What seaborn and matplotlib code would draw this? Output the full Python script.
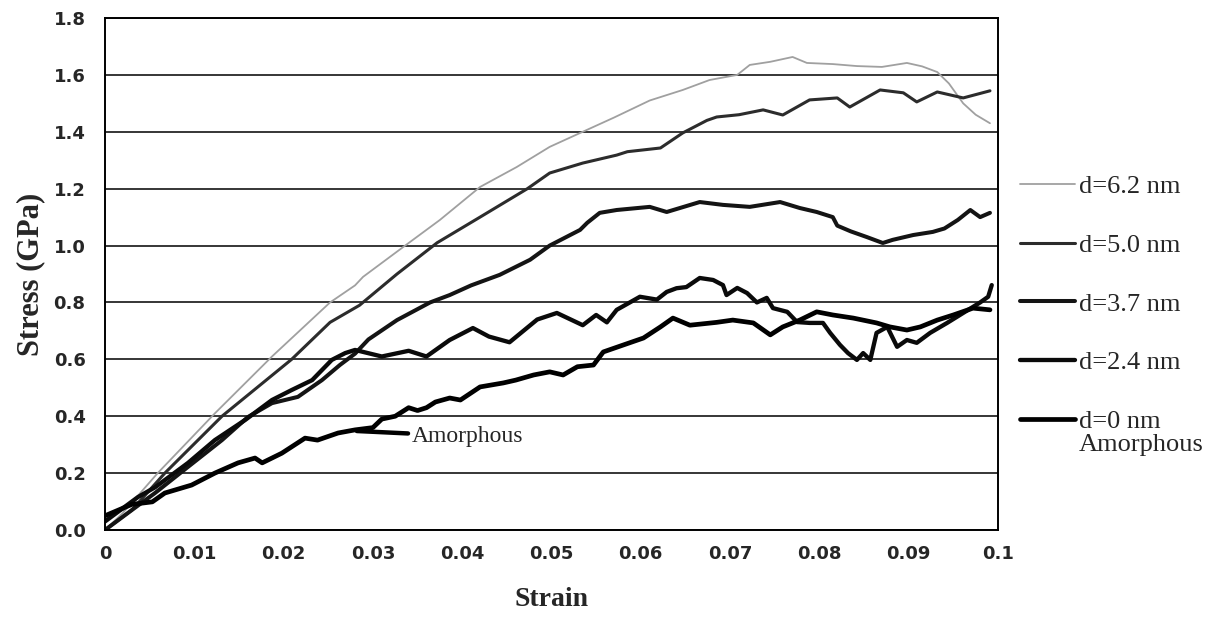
import matplotlib
matplotlib.use("Agg")
import matplotlib.pyplot as plt
import seaborn as sns
import pandas as pd

# ---------------- data ----------------
strain_62 = [0, 0.002, 0.0059, 0.0123, 0.0187, 0.0252, 0.028, 0.0289, 0.0334, 0.0375, 0.042, 0.0461,
             0.0498, 0.0535, 0.057, 0.061, 0.0647, 0.0677, 0.0708, 0.0722, 0.0745, 0.077, 0.0786,
             0.0815, 0.0842, 0.087, 0.0898, 0.0915, 0.0932, 0.0945, 0.0961, 0.0975, 0.0991]
stress_62 = [0, 0.06, 0.20, 0.41, 0.61, 0.80, 0.86, 0.89, 0.995, 1.09, 1.206, 1.276,
             1.347, 1.40, 1.45, 1.51, 1.547, 1.582, 1.60, 1.635, 1.646, 1.663, 1.642,
             1.638, 1.631, 1.628, 1.642, 1.63, 1.61, 1.57, 1.50, 1.46, 1.43]

strain_50 = [0, 0.003, 0.0067, 0.0131, 0.0209, 0.0252, 0.0285, 0.0327, 0.0372, 0.042, 0.0473, 0.0498,
             0.0535, 0.0573, 0.0585, 0.0622, 0.0647, 0.0674, 0.0685, 0.071, 0.0737, 0.0759, 0.0789,
             0.082, 0.0834, 0.0868, 0.0894, 0.0909, 0.0932, 0.0961, 0.0991]
stress_50 = [0, 0.07, 0.20, 0.40, 0.60, 0.73, 0.79, 0.90, 1.01, 1.10, 1.20, 1.255,
             1.29, 1.318, 1.33, 1.343, 1.396, 1.44, 1.452, 1.46, 1.477, 1.459, 1.512,
             1.519, 1.487, 1.547, 1.537, 1.505, 1.54, 1.519, 1.544]

strain_37 = [0, 0.003, 0.0056, 0.0093, 0.0131, 0.016, 0.0187, 0.0216, 0.0243, 0.0263, 0.028, 0.0295,
             0.0327, 0.0364, 0.0386, 0.041, 0.0442, 0.0476, 0.0498, 0.0532, 0.054, 0.0554, 0.0573,
             0.061, 0.0629, 0.0666, 0.0692, 0.0722, 0.0756, 0.0778, 0.0797, 0.0815, 0.082, 0.0835,
             0.0853, 0.0871, 0.0882, 0.0905, 0.0927, 0.094, 0.0955, 0.0969, 0.098, 0.0991]
stress_37 = [0, 0.07, 0.13, 0.222, 0.316, 0.397, 0.446, 0.468, 0.527, 0.58, 0.62, 0.67,
             0.738, 0.80, 0.826, 0.86, 0.897, 0.95, 1.0, 1.055, 1.08, 1.115, 1.125,
             1.136, 1.118, 1.153, 1.143, 1.136, 1.153, 1.132, 1.118, 1.10, 1.07, 1.05,
             1.03, 1.009, 1.02, 1.037, 1.048, 1.06, 1.09, 1.125, 1.10, 1.115]

strain_24 = [0, 0.0037, 0.0056, 0.0093, 0.0123, 0.0157, 0.0187, 0.0209, 0.0232, 0.0254, 0.0269, 0.028,
             0.031, 0.034, 0.036, 0.0386, 0.0412, 0.043, 0.0453, 0.0484, 0.0506, 0.0535, 0.055,
             0.0562, 0.0573, 0.0599, 0.0618, 0.0629, 0.064, 0.0651, 0.0666, 0.0681, 0.0692, 0.0696,
             0.0708, 0.0719, 0.073, 0.0741, 0.0748, 0.0764, 0.0775, 0.0789, 0.0804, 0.0812, 0.0823,
             0.0832, 0.0842, 0.0849, 0.0857, 0.0864, 0.0876, 0.0887, 0.0898, 0.0909, 0.0924,
             0.0943, 0.0961, 0.098, 0.0989, 0.0993]
stress_24 = [0.03, 0.116, 0.15, 0.236, 0.316, 0.387, 0.457, 0.492, 0.527, 0.598, 0.622, 0.633,
             0.61, 0.63, 0.61, 0.668, 0.71, 0.68, 0.66, 0.74, 0.763, 0.72, 0.756,
             0.73, 0.774, 0.82, 0.81, 0.837, 0.85, 0.854, 0.886, 0.879, 0.861, 0.826,
             0.851, 0.833, 0.80, 0.816, 0.78, 0.767, 0.731, 0.728, 0.728, 0.693, 0.651,
             0.622, 0.598, 0.622, 0.598, 0.693, 0.714, 0.644, 0.668, 0.658, 0.693,
             0.728, 0.763, 0.80, 0.82, 0.861]

strain_0 = [0, 0.003, 0.0053, 0.0067, 0.0097, 0.0123, 0.0149, 0.0168, 0.0176, 0.0198, 0.0224, 0.0238,
            0.0261, 0.028, 0.030, 0.031, 0.0325, 0.034, 0.035, 0.036, 0.037, 0.0386, 0.0398, 0.042,
            0.0446, 0.046, 0.048, 0.0498, 0.0513, 0.0529, 0.0547, 0.0558, 0.058, 0.0603, 0.0622,
            0.0636, 0.0655, 0.0685, 0.0703, 0.0726, 0.0745, 0.0759, 0.0778, 0.0797, 0.0815, 0.0838,
            0.0864, 0.0879, 0.0898, 0.0913, 0.0932, 0.095, 0.0972, 0.0991]
stress_0 = [0.05, 0.09, 0.099, 0.13, 0.158, 0.20, 0.236, 0.253, 0.236, 0.27, 0.323, 0.316,
            0.341, 0.352, 0.36, 0.39, 0.40, 0.43, 0.42, 0.43, 0.45, 0.464, 0.457, 0.503,
            0.517, 0.527, 0.545, 0.556, 0.545, 0.574, 0.58, 0.626, 0.65, 0.675, 0.714,
            0.745, 0.72, 0.73, 0.738, 0.728, 0.686, 0.714, 0.738, 0.767, 0.756, 0.745,
            0.728, 0.714, 0.703, 0.714, 0.738, 0.756, 0.78, 0.774]

series_labels = ["d=6.2 nm", "d=5.0 nm", "d=3.7 nm", "d=2.4 nm", "d=0 nm"]
amorphous_note = "Amorphous"
x_ticks = [0, 0.01, 0.02, 0.03, 0.04, 0.05, 0.06, 0.07, 0.08, 0.09, 0.1]
x_tick_labels = ["0", "0.01", "0.02", "0.03", "0.04", "0.05", "0.06", "0.07", "0.08", "0.09", "0.1"]
y_ticks = [0.0, 0.2, 0.4, 0.6, 0.8, 1.0, 1.2, 1.4, 1.6, 1.8]
y_tick_labels = ["0.0", "0.2", "0.4", "0.6", "0.8", "1.0", "1.2", "1.4", "1.6", "1.8"]

# ---------------- style ----------------
sns.set_style("white")
plt.rcParams["font.family"] = ["DejaVu Sans"]
SERIF = "Liberation Serif"

colors = ["#a0a0a0", "#2c2c2c", "#141414", "#0a0a0a", "#000000"]
widths = [1.3, 2.2, 2.9, 3.1, 3.4]

W, H = 1210, 622
fig = plt.figure(figsize=(W / 100, H / 100), dpi=100)
ax = fig.add_axes([105 / W, 92 / H, (998 - 105) / W, (530 - 18) / H])

all_series = [(strain_62, stress_62), (strain_50, stress_50), (strain_37, stress_37),
              (strain_24, stress_24), (strain_0, stress_0)]
for (sx, sy), lab, c, w in zip(all_series, series_labels, colors, widths):
    df = pd.DataFrame({"Strain": sx, "Stress": sy})
    sns.lineplot(data=df, x="Strain", y="Stress", ax=ax, color=c, lw=w, label=lab,
                 sort=False, estimator=None)

ax.set_xlim(0, 0.1)
ax.set_ylim(0, 1.8)
ax.set_xticks(x_ticks)
ax.set_xticklabels(x_tick_labels)
ax.set_yticks(y_ticks)
ax.set_yticklabels(y_tick_labels)
for lbl in ax.get_xticklabels() + ax.get_yticklabels():
    lbl.set_fontweight("bold")
    lbl.set_fontsize(13)
ax.tick_params(axis="both", direction="out", length=6, width=1, color="black")
ax.tick_params(axis="y", pad=8)
ax.tick_params(axis="x", pad=5)

ax.yaxis.grid(True, color="black", lw=1.1)
ax.xaxis.grid(False)
ax.set_axisbelow(True)
for sp in ax.spines.values():
    sp.set_visible(True)
    sp.set_color("black")
    sp.set_linewidth(1.4)

ax.set_xlabel("Strain", family=SERIF, fontweight="bold", fontsize=20, labelpad=17)
ax.set_ylabel("Stress (GPa)", family=SERIF, fontweight="bold", fontsize=22, labelpad=6)

ax.annotate(amorphous_note, xy=(0.0282, 0.348), xytext=(0.0343, 0.33), va="center", ha="left",
            family=SERIF, fontsize=17,
            arrowprops=dict(arrowstyle="-", lw=3.2, color="black", shrinkA=0, shrinkB=0,
                            relpos=(0, 0.62)))

handles, labels = ax.get_legend_handles_labels()
ax.get_legend().remove()
leg = fig.legend(handles, labels, loc="upper left", bbox_to_anchor=(1020 / W, 1 - 175 / H),
                 frameon=False, prop={"family": SERIF, "size": 19},
                 handlelength=2.1, handletextpad=0.12, labelspacing=1.33, borderaxespad=0,
                 borderpad=0)

# second line of the last legend entry, placed right below its first line
fig.canvas.draw()
bb = leg.get_texts()[-1].get_window_extent()
fig.text(bb.x0 / W, (bb.y0 - 1) / H, amorphous_note, ha="left", va="top",
         family=SERIF, fontsize=19)

fig.savefig("out.png", dpi=100)
